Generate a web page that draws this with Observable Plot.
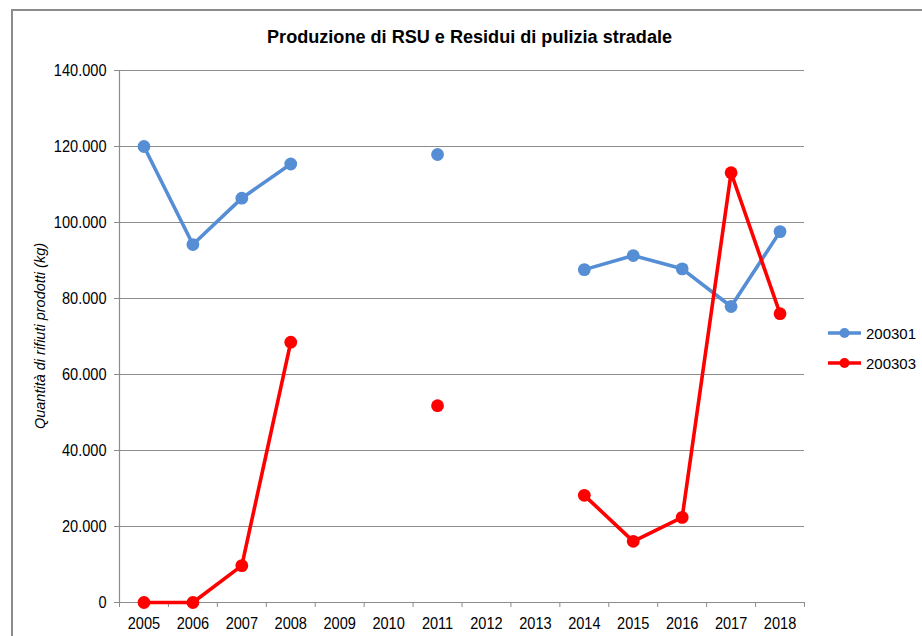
<!DOCTYPE html>
<html>
<head>
<meta charset="utf-8">
<script src="https://cdn.jsdelivr.net/npm/d3@7"></script>
<script src="https://cdn.jsdelivr.net/npm/@observablehq/plot@0.6"></script>
<style>
  html, body { margin: 0; padding: 0; background: #fff; }
  #wrap { position: relative; width: 922px; height: 636px; overflow: hidden; font-family: "Liberation Sans", Arial, sans-serif; }
  #frame { position: absolute; left: 11px; top: 9px; width: 1200px; height: 1000px; border-left: 2px solid #8c8c8c; border-top: 2px solid #8c8c8c; }
  #chart { position: absolute; left: 0; top: 0; }
  #title { position: absolute; top: 27px; left: 0; width: 940px; text-align: center; font-weight: bold; font-size: 18px; color: #000; white-space: nowrap; }
  #title span { display: inline-block; transform-origin: center; }
  #ylab { position: absolute; left: 40px; top: 336px; transform: translate(-50%, -50%) rotate(-90deg); font-style: italic; font-size: 14.5px; white-space: nowrap; color: #000; }
  .leg { position: absolute; left: 827px; font-size: 15px; color: #000; display: flex; align-items: center; }
  .leg svg { margin-right: 4px; }
</style>
</head>
<body>
<div id="wrap">
  <div id="frame"></div>
  <div id="chart"></div>
  <div id="title"><span>Produzione di RSU e Residui di pulizia stradale</span></div>
  <div id="ylab">Quantità di rifiuti prodotti (kg)</div>
</div>
<script>
const years = [2005, 2006, 2007, 2008, 2009, 2010, 2011, 2012, 2013, 2014, 2015, 2016, 2017, 2018];
const s200301 = [120000, 94200, 106400, 115400, null, null, 117900, null, null, 87600, 91300, 87800, 77900, 97600];
const s200303 = [0, 0, 9700, 68500, null, null, 51800, null, null, 28200, 16100, 22400, 113100, 76000];
const seriesNames = ["200301", "200303"];
const seriesColors = ["#558ED5", "#FF0000"];
const yTicks = [0, 20000, 40000, 60000, 80000, 100000, 120000, 140000];

const itFormat = d3.formatLocale({decimal: ",", thousands: ".", grouping: [3], currency: ["", " €"]}).format(",d");

const rowsA = years.map((y, i) => ({year: y, v: s200301[i]}));
const rowsB = years.map((y, i) => ({year: y, v: s200303[i]}));
const boundaries = years.map(y => y - 0.5).concat([years[years.length - 1] + 0.5]);
const gridColor = "#8c8c8c";

const chart = Plot.plot({
  width: 922,
  height: 636,
  marginLeft: 119,
  marginRight: 118,
  marginTop: 70,
  marginBottom: 34,
  style: {fontFamily: "'Liberation Sans', Arial, sans-serif", fontSize: "16px", color: "#000", background: "transparent"},
  x: {type: "linear", domain: [years[0] - 0.5, years[years.length - 1] + 0.5], label: null},
  y: {domain: [yTicks[0], yTicks[yTicks.length - 1]], label: null},
  marks: [
    Plot.ruleY(yTicks.slice(1), {stroke: gridColor, strokeWidth: 1.2}),
    Plot.ruleY([0], {stroke: gridColor, strokeWidth: 1.2}),
    Plot.ruleX([years[0] - 0.5], {stroke: gridColor, strokeWidth: 1.2}),
    Plot.axisY(yTicks, {tickSize: 5, tickPadding: 8, tickFormat: itFormat, stroke: gridColor, fill: "#000", label: null}),
    Plot.axisX(boundaries, {tickSize: 5, tickFormat: () => "", stroke: gridColor, label: null}),
    Plot.axisX(years, {tickSize: 0, tickPadding: 15, tickFormat: d => String(d), fill: "#000", label: null}),
    Plot.line(rowsA, {x: "year", y: "v", stroke: seriesColors[0], strokeWidth: 3.6}),
    Plot.dot(rowsA, {x: "year", y: "v", r: 6.4, fill: seriesColors[0], stroke: "none"}),
    Plot.line(rowsB, {x: "year", y: "v", stroke: seriesColors[1], strokeWidth: 3.6}),
    Plot.dot(rowsB, {x: "year", y: "v", r: 6.4, fill: seriesColors[1], stroke: "none"})
  ]
});
document.getElementById("chart").appendChild(chart);

// condense tick labels slightly (narrow look of the reference)
chart.querySelectorAll("text").forEach(t => {
  const s = t.textContent;
  if (!s) return;
  const len = t.getComputedTextLength();
  if (len > 0) {
    t.setAttribute("textLength", (len * 0.91).toFixed(2));
    t.setAttribute("lengthAdjust", "spacingAndGlyphs");
  }
});

// legend
const wrap = document.getElementById("wrap");
seriesNames.forEach((name, i) => {
  const div = document.createElement("div");
  div.className = "leg";
  div.style.top = (333 + i * 30 - 9) + "px";
  div.innerHTML = `<svg width="35" height="18"><line x1="1" y1="9" x2="34" y2="9" stroke="${seriesColors[i]}" stroke-width="3.6"/><circle cx="17.5" cy="9" r="5" fill="${seriesColors[i]}"/></svg><span>${name}</span>`;
  wrap.appendChild(div);
});

// condense title to match reference width
const span = document.querySelector("#title span");
const w = span.getBoundingClientRect().width;
span.style.transform = `scaleX(${405 / w})`;
</script>
</body>
</html>
